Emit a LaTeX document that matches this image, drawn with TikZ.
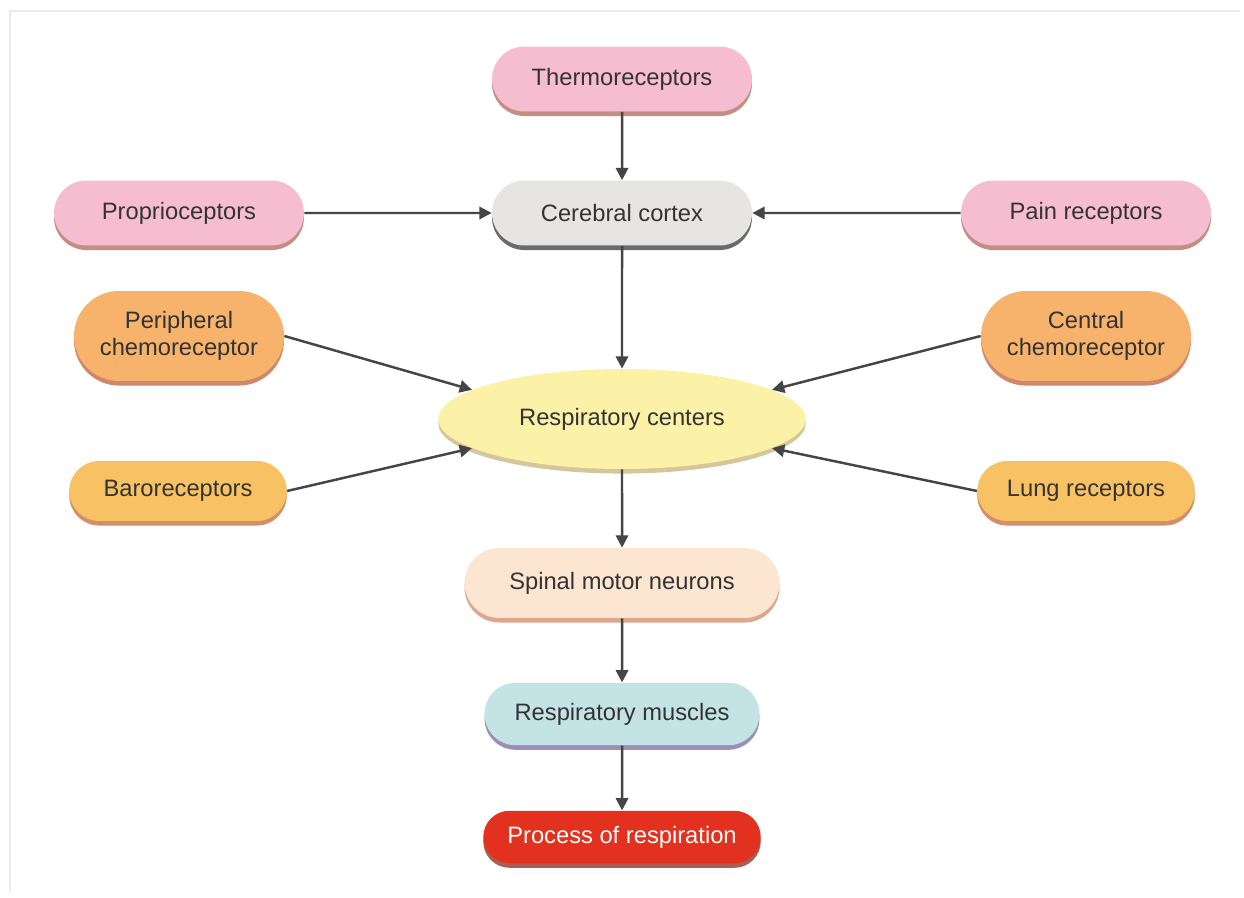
\documentclass[tikz,border=0pt]{standalone}
\usepackage{fontspec}
\setmainfont{Liberation Sans}
\usetikzlibrary{shapes.misc,shapes.geometric,shadows,arrows.meta}

\definecolor{pinkfill}{HTML}{F6BDD1}
\definecolor{pinkshadow}{HTML}{B06A5A}
\definecolor{grayfill}{HTML}{E6E5E3}
\definecolor{grayshadow}{HTML}{3A3A3A}
\definecolor{orangefill}{HTML}{F7B26C}
\definecolor{orangeshadow}{HTML}{C0603E}
\definecolor{goldfill}{HTML}{F8C163}
\definecolor{goldshadow}{HTML}{C26A3A}
\definecolor{yellowfill}{HTML}{FBF2A8}
\definecolor{yellowshadow}{HTML}{C9B47A}
\definecolor{peachfill}{HTML}{FCE5D1}
\definecolor{peachshadow}{HTML}{D08A6A}
\definecolor{bluefill}{HTML}{C3E3E5}
\definecolor{blueshadow}{HTML}{7A6A9A}
\definecolor{redfill}{HTML}{E2321F}
\definecolor{redshadow}{HTML}{8A2A1A}
\definecolor{arrowgray}{HTML}{454545}
\definecolor{labeltext}{HTML}{333333}

\tikzset{
  capsule/.style={rounded rectangle, minimum width=#1, minimum height=1.3cm,
    inner sep=0pt, align=center, text=labeltext,
    font=\fontsize{13.5}{16}\selectfont},
  tinted/.style 2 args={fill=#1,
    drop shadow={shadow xshift=0pt, shadow yshift=-2.6pt, fill=#2, opacity=0.75}},
  link/.style={draw=arrowgray, line width=1.4pt,
    -{Triangle[length=7pt,width=7pt]}}
}

\begin{document}
\begin{tikzpicture}[x=0.02cm,y=-0.02cm]
  % page area and faint frame
  \path[fill=white] (0,0) rectangle (1244,898);
  \useasboundingbox (0,0) rectangle (1244,898);
  \draw[black!8, line width=1.2pt] (10,893) -- (10,11) -- (1240,11);

  % receptors and centres
  \node[capsule=5.2cm, tinted={pinkfill}{pinkshadow}] (thermo) at (622,79) {Thermoreceptors};
  \node[capsule=5.2cm, tinted={grayfill}{grayshadow}] (cortex) at (622,213) {Cerebral cortex};
  \node[capsule=5.0cm, tinted={pinkfill}{pinkshadow}] (proprio) at (179,213) {Proprioceptors};
  \node[capsule=5.0cm, tinted={pinkfill}{pinkshadow}] (pain) at (1086,213) {Pain receptors};
  \node[capsule=4.2cm, minimum height=1.8cm, tinted={orangefill}{orangeshadow}] (periph) at (179,336)
    {Peripheral\\[-1pt]chemoreceptor};
  \node[capsule=4.2cm, minimum height=1.8cm, tinted={orangefill}{orangeshadow}] (central) at (1086,336)
    {Central\\[-1pt]chemoreceptor};
  \node[ellipse, minimum width=7.35cm, minimum height=2.0cm, inner sep=0pt,
        text=labeltext, font=\fontsize{13.5}{16}\selectfont,
        tinted={yellowfill}{yellowshadow}] (centers) at (622,419) {Respiratory centers};
  \node[capsule=4.35cm, minimum height=1.2cm, tinted={goldfill}{goldshadow}] (baro) at (178,491) {Baroreceptors};
  \node[capsule=4.35cm, minimum height=1.2cm, tinted={goldfill}{goldshadow}] (lung) at (1086,491) {Lung receptors};

  % output chain
  \node[capsule=6.3cm, minimum height=1.4cm, tinted={peachfill}{peachshadow}] (spinal) at (622,583) {Spinal motor neurons};
  \node[capsule=5.5cm, minimum height=1.25cm, tinted={bluefill}{blueshadow}] (muscles) at (622,714) {Respiratory muscles};
  \node[capsule=5.55cm, minimum height=1.05cm, text=white, tinted={redfill}{redshadow}] (process) at (622,837) {Process of respiration};

  % connectors
  \draw[link] (thermo) -- (cortex);
  \draw[link] (proprio) -- (cortex);
  \draw[link] (pain) -- (cortex);
  \draw[link] (cortex) -- (centers);
  \draw[link] (periph.east) -- (centers.169);
  \draw[link] (central.west) -- (centers.11);
  \draw[link] (baro.east) -- (centers.191);
  \draw[link] (lung.west) -- (centers.-11);
  \draw[link] (centers) -- (spinal);
  \draw[link] (spinal) -- (muscles);
  \draw[link] (muscles) -- (process);
\end{tikzpicture}
\end{document}
